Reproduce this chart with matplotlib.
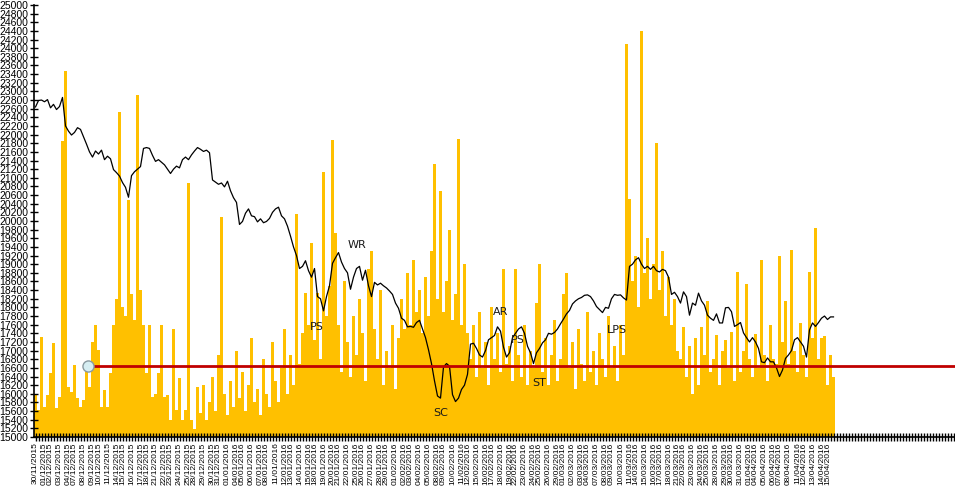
import numpy as np
import pandas as pd
import matplotlib.pyplot as plt

# cierre del indice (linea negra)
price = [22640, 22790, 22800, 22760, 22810, 22620, 22700, 22580, 22650, 22860,
         22200, 22080, 21990, 22050, 22160, 22120, 21950, 21780, 21600, 21480,
         21620, 21550, 21640, 21420, 21500, 21440, 21190, 21120, 21040, 20890,
         20780, 20550, 21050, 21140, 21200, 21260, 21680, 21700, 21680, 21520,
         21380, 21420, 21360, 21300, 21200, 21100, 21200, 21270, 21230, 21420,
         21480, 21420, 21530, 21620, 21700, 21660, 21610, 21640, 21580, 20950,
         20900, 20850, 20880, 20790, 20920, 20700, 20540, 20430, 19920, 19990,
         20180, 20280, 20120, 20100, 19980, 20050, 19960, 19990, 20060, 20200,
         20280, 20320, 20120, 20050, 19880, 19650, 19400, 19200, 18900, 18950,
         19080, 18850, 18700, 18900, 18250, 18200, 17920, 18250, 18500, 19020,
         19150, 19270, 19050, 18900, 18800, 18420, 18700, 18900, 18950, 18630,
         18860, 18500, 18250, 18580, 18520, 18560, 18500, 18450, 18380, 18300,
         18100, 17980, 17750, 17700, 17550, 17560, 17540, 17650, 17700, 17500,
         17300, 17020, 16700, 16300, 15950, 15900, 16620, 16700, 16640, 15980,
         15820, 15900, 16100, 16200, 16450, 17150, 17170, 17050, 16900, 16850,
         17000, 17250, 17300, 17350, 17550, 17450, 17080, 16850, 16950, 17300,
         17400, 17500, 17550, 17400, 17100, 16950, 16700, 16950, 17050, 17180,
         17250, 17400, 17380, 17420, 17500, 17620, 17730, 17850, 17930, 18080,
         18150, 18200, 18230, 18280, 18290, 18250, 18150, 18020, 17950, 17880,
         18000, 17980, 18200, 18300, 18280, 18290, 18220, 18170, 18950, 19000,
         19100, 19150, 19000, 18900, 18950, 18880, 18950, 18850, 18820, 18880,
         18850, 18700, 18300, 18350, 18250, 18100, 18360, 18250, 17820, 18100,
         18050, 18330, 18150, 18050, 17820, 17750, 17700, 17850, 17640, 17640,
         17990, 18000, 17900, 17560, 17600, 17650, 17410, 17300, 17200, 17300,
         17200, 17050, 16740, 16720, 16830, 16740, 16740, 16600, 16400, 16550,
         16820, 16900, 17000, 17250, 17300, 17200, 17100, 16850, 17480, 17640,
         17560, 17650, 17750, 17800, 17720, 17780, 17780]

# volumen (barras amarillas), en la misma escala del eje
volume = [15970, 15620, 17310, 15690, 15970, 16480, 17180, 15680, 15930, 21850,
          23470, 16160, 16040, 16670, 15900, 15690, 15850, 16550, 16160, 17200,
          17600, 17010, 15690, 16090, 15690, 16480, 17600, 18200, 22520, 18000,
          17800, 20480, 18300, 17700, 22920, 18400, 17600, 16480, 17600, 15930,
          16000, 16480, 17600, 15930, 15970, 15390, 17500, 15620, 16370, 15390,
          15620, 20880, 15390, 15180, 16160, 15550, 16200, 15400, 15800, 16400,
          15600, 16900, 20090, 16000, 15500, 16300, 15700, 17000, 15900, 16500,
          15600, 16200, 17300, 15800, 16100, 15500, 16800, 16000, 15700, 17200,
          16300, 15800, 16600, 17500, 16000, 16900, 16200, 20160, 16700, 17400,
          18330, 17600, 19500, 17250, 18330, 16800, 21130, 17800, 18500, 21870,
          19720, 17600, 16500, 18600, 17200, 16400, 17800, 16900, 18200, 17400,
          16300, 18900, 19300, 17500, 16800, 18400, 16200, 17000, 16600, 17600,
          16100, 17300, 18200, 17500, 18800, 17600, 19100, 17900, 18400, 17400,
          18700, 17800, 19300, 21330, 18200, 20700, 17900, 18600, 19800, 17700,
          18300, 21900, 17600, 19000, 17400, 16800, 17600, 16400, 17900, 16600,
          17200, 16200, 18000, 16800, 17400, 16500, 18900, 16700, 17100, 16300,
          18900, 16900, 16400, 17600, 16200, 17000, 16600, 18100, 19000, 16500,
          17300, 16200, 16900, 17700, 16300, 16800, 18300, 18800, 16600, 17200,
          16100, 17500, 16700, 16300, 17900, 16500, 17000, 16200, 17400, 16800,
          16400, 17800, 16600, 17100, 16300, 17600, 16900, 24100, 20500, 18600,
          19200, 18000, 24400, 18800, 19600, 18200, 19000, 21800, 18400, 19300,
          17800, 18700, 17600, 18200, 17000, 16800, 17550, 16400, 17100, 16000,
          17300, 16200, 17550, 16900, 18150, 16500, 16800, 17370, 16200, 17000,
          17250, 16600, 17430, 16300, 18820, 16500, 17000, 18550, 16800, 16400,
          17380, 16600, 19100, 16900, 16300, 17600, 16800, 16700, 19200, 17200,
          18150, 16700, 19330, 17000, 16500, 17650, 16900, 16400, 18820, 17300,
          19840, 16800, 17300, 17330, 16200, 16900, 16400]

events = ['PS', 'WR', 'SC', 'AR', 'PS', 'ST', 'LPS']
event_pos = [93.7, 107.3, 135.0, 155.0, 160.7, 168.0, 193.7]
event_val = [17546, 19444, 15556, 17894, 17245, 16250, 17477]

soporte = 16650
days = pd.bdate_range('2015-11-30', '2016-04-15')

n = len(price)
x = np.arange(n)
total_ticks = 307

fig = plt.figure(figsize=(9.55, 5.0), dpi=100)
ax = fig.add_axes([34 / 955, 63 / 500, 921 / 955, 432 / 500])

ax.bar(x, volume, width=0.7, color='#ffc000', linewidth=0, zorder=1)
ax.plot(x, price, color='black', lw=0.9, zorder=3)
ax.plot([17.5, total_ticks], [soporte, soporte], color='#c00000', lw=2, zorder=4)
ax.plot(17.5, soporte, 'o', ms=8, mfc='#d6eef2', mec='#8a9aa0', mew=1, zorder=5)

for lab, px, py in zip(events, event_pos, event_val):
    ax.text(px, py, lab, ha='center', va='center', fontsize=8,
            family='DejaVu Sans', color='#1a1a1a', zorder=6)

ax.set_xlim(-0.5, total_ticks - 0.5)
ax.set_ylim(15000, 25000)
ax.set_yticks(np.arange(15000, 25001, 200))
ax.set_yticklabels([str(v) for v in range(15000, 25001, 200)],
                   fontsize=7.5, family='Liberation Sans')

# una etiqueta por sesion, marcas menores en cada barra
label_pos = [round(k * n / len(days)) for k in range(len(days))]
ax.set_xticks(label_pos)
ax.set_xticklabels([d.strftime('%d/%m/%Y') for d in days], rotation=90,
                   fontsize=6, family='Liberation Sans')
ax.set_xticks(np.arange(total_ticks), minor=True)

ax.tick_params(axis='both', which='both', direction='inout', length=6, width=1,
               colors='black', pad=1)
for s in ['top', 'right']:
    ax.spines[s].set_visible(False)
ax.spines['left'].set_linewidth(1.2)
ax.spines['bottom'].set_linewidth(1.2)

fig.savefig('out.png', dpi=100)
